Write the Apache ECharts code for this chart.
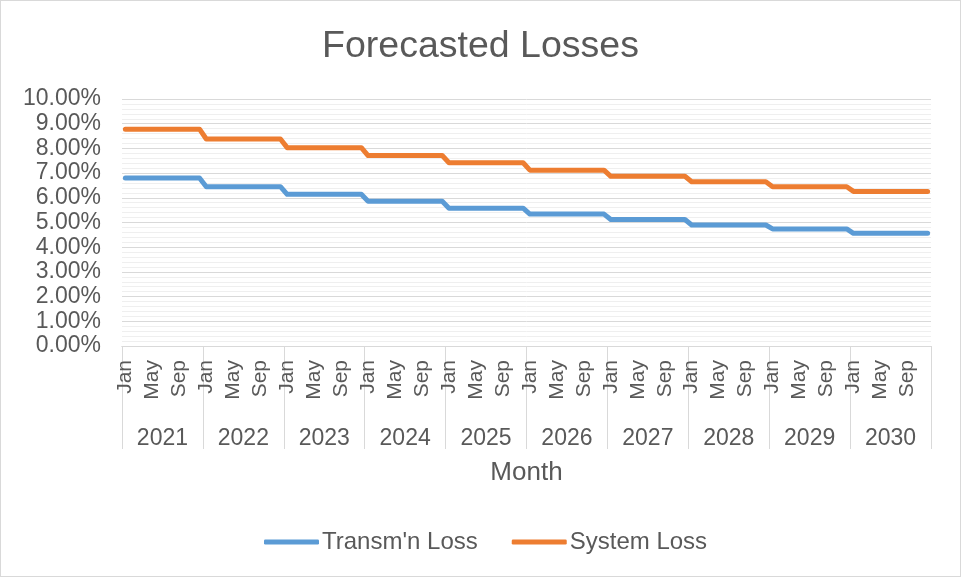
<!DOCTYPE html>
<html>
<head>
<meta charset="utf-8">
<title>Forecasted Losses</title>
<script src="https://cdn.jsdelivr.net/npm/echarts@6/dist/echarts.min.js"></script>
<style>
  html, body { margin: 0; padding: 0; background: #fff; }
  #chart {
    width: 961px;
    height: 577px;
    box-sizing: border-box;
    border: 1px solid #d9d9d9;
  }
</style>
</head>
<body>
<div id="chart"></div>
<script>
// month and year labels of the two-level category axis
const months = ['Jan', 'Feb', 'Mar', 'Apr', 'May', 'Jun', 'Jul', 'Aug', 'Sep', 'Oct', 'Nov', 'Dec']
const years = ['2021', '2022', '2023', '2024', '2025', '2026', '2027', '2028', '2029', '2030']

// monthly values, one row per year
const transmLoss = [
  0.0680, 0.0680, 0.0680, 0.0680, 0.0680, 0.0680, 0.0680, 0.0680, 0.0680, 0.0680, 0.0680, 0.0680,
  0.0645, 0.0645, 0.0645, 0.0645, 0.0645, 0.0645, 0.0645, 0.0645, 0.0645, 0.0645, 0.0645, 0.0645,
  0.0614, 0.0614, 0.0614, 0.0614, 0.0614, 0.0614, 0.0614, 0.0614, 0.0614, 0.0614, 0.0614, 0.0614,
  0.0586, 0.0586, 0.0586, 0.0586, 0.0586, 0.0586, 0.0586, 0.0586, 0.0586, 0.0586, 0.0586, 0.0586,
  0.0558, 0.0558, 0.0558, 0.0558, 0.0558, 0.0558, 0.0558, 0.0558, 0.0558, 0.0558, 0.0558, 0.0558,
  0.0534, 0.0534, 0.0534, 0.0534, 0.0534, 0.0534, 0.0534, 0.0534, 0.0534, 0.0534, 0.0534, 0.0534,
  0.0512, 0.0512, 0.0512, 0.0512, 0.0512, 0.0512, 0.0512, 0.0512, 0.0512, 0.0512, 0.0512, 0.0512,
  0.0490, 0.0490, 0.0490, 0.0490, 0.0490, 0.0490, 0.0490, 0.0490, 0.0490, 0.0490, 0.0490, 0.0490,
  0.0474, 0.0474, 0.0474, 0.0474, 0.0474, 0.0474, 0.0474, 0.0474, 0.0474, 0.0474, 0.0474, 0.0474,
  0.0456, 0.0456, 0.0456, 0.0456, 0.0456, 0.0456, 0.0456, 0.0456, 0.0456, 0.0456, 0.0456, 0.0456
]
const systemLoss = [
  0.0878, 0.0878, 0.0878, 0.0878, 0.0878, 0.0878, 0.0878, 0.0878, 0.0878, 0.0878, 0.0878, 0.0878,
  0.0838, 0.0838, 0.0838, 0.0838, 0.0838, 0.0838, 0.0838, 0.0838, 0.0838, 0.0838, 0.0838, 0.0838,
  0.0803, 0.0803, 0.0803, 0.0803, 0.0803, 0.0803, 0.0803, 0.0803, 0.0803, 0.0803, 0.0803, 0.0803,
  0.0771, 0.0771, 0.0771, 0.0771, 0.0771, 0.0771, 0.0771, 0.0771, 0.0771, 0.0771, 0.0771, 0.0771,
  0.0742, 0.0742, 0.0742, 0.0742, 0.0742, 0.0742, 0.0742, 0.0742, 0.0742, 0.0742, 0.0742, 0.0742,
  0.0712, 0.0712, 0.0712, 0.0712, 0.0712, 0.0712, 0.0712, 0.0712, 0.0712, 0.0712, 0.0712, 0.0712,
  0.0687, 0.0687, 0.0687, 0.0687, 0.0687, 0.0687, 0.0687, 0.0687, 0.0687, 0.0687, 0.0687, 0.0687,
  0.0665, 0.0665, 0.0665, 0.0665, 0.0665, 0.0665, 0.0665, 0.0665, 0.0665, 0.0665, 0.0665, 0.0665,
  0.0645, 0.0645, 0.0645, 0.0645, 0.0645, 0.0645, 0.0645, 0.0645, 0.0645, 0.0645, 0.0645, 0.0645,
  0.0626, 0.0626, 0.0626, 0.0626, 0.0626, 0.0626, 0.0626, 0.0626, 0.0626, 0.0626, 0.0626, 0.0626
]

const monthCategories = []
years.forEach(y => months.forEach(m => monthCategories.push(y + ' ' + m)))

const FONT = 'Liberation Sans, Arial, sans-serif'
const TEXT = '#595959'
const GRID_LINE = '#d9d9d9'

const chart = echarts.init(document.getElementById('chart'))

const option = {
  animation: false,
  title: {
    text: 'Forecasted Losses',
    left: 'center',
    top: 22,
    textStyle: { fontFamily: FONT, fontSize: 37.5, fontWeight: 'normal', color: TEXT }
  },
  legend: {
    left: 263,
    top: 529,
    padding: 0,
    itemWidth: 55,
    itemHeight: 5,
    itemGap: 34,
    icon: 'roundRect',
    textStyle: { fontFamily: FONT, fontSize: 24, color: TEXT, padding: [0, 0, 0, -2] }
  },
  grid: {
    left: 121,
    right: 29,
    top: 98,
    bottom: 230
  },
  xAxis: [
    {
      type: 'category',
      data: monthCategories,
      boundaryGap: true,
      axisLine: { lineStyle: { color: GRID_LINE, width: 1 } },
      axisTick: { show: false },
      axisLabel: {
        interval: idx => idx % 4 === 0,
        rotate: 90,
        margin: 14,
        fontFamily: FONT,
        fontSize: 21,
        color: TEXT,
        formatter: v => v.split(' ')[1]
      }
    },
    {
      type: 'category',
      data: years,
      position: 'bottom',
      boundaryGap: true,
      axisLine: { lineStyle: { color: GRID_LINE, width: 1 } },
      axisTick: { show: true, length: 103, lineStyle: { color: GRID_LINE, width: 1 } },
      axisLabel: { margin: 81, fontFamily: FONT, fontSize: 23, color: TEXT },
      name: 'Month',
      nameLocation: 'middle',
      nameGap: 114,
      nameTextStyle: { fontFamily: FONT, fontSize: 26, color: TEXT }
    }
  ],
  yAxis: {
    type: 'value',
    min: 0,
    max: 0.1,
    interval: 0.01,
    axisLine: { show: false },
    axisTick: { show: false },
    axisLabel: {
      margin: 21,
      fontFamily: FONT,
      fontSize: 23,
      color: TEXT,
      formatter: v => (v * 100).toFixed(2) + '%'
    },
    splitLine: { lineStyle: { color: GRID_LINE, width: 1 } },
    minorTick: { show: false, splitNumber: 5 },
    minorSplitLine: { show: true, lineStyle: { color: '#efefef', width: 1 } }
  },
  series: [
    {
      name: "Transm'n Loss",
      type: 'line',
      xAxisIndex: 0,
      data: transmLoss,
      showSymbol: false,
      color: '#5b9bd5',
      lineStyle: { width: 5, color: '#5b9bd5', cap: 'round', join: 'round' }
    },
    {
      name: 'System Loss',
      type: 'line',
      xAxisIndex: 0,
      data: systemLoss,
      showSymbol: false,
      color: '#ed7d31',
      lineStyle: { width: 5, color: '#ed7d31', cap: 'round', join: 'round' }
    }
  ]
}

chart.setOption(option)
</script>
</body>
</html>
